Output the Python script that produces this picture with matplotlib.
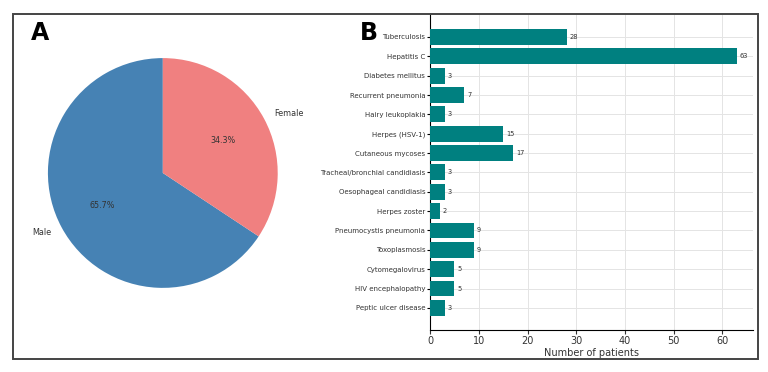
import matplotlib.pyplot as plt
from matplotlib.patches import Rectangle

# panel A data
sexLabels  = ['Male', 'Female']
sexShares  = [65.7, 34.3]
sexColors  = ['#4682B4', '#F08080']

# panel B data
diseases = ['Tuberculosis', 'Hepatitis C', 'Diabetes mellitus', 'Recurrent pneumonia',
            'Hairy leukoplakia', 'Herpes (HSV-1)', 'Cutaneous mycoses',
            'Tracheal/bronchial candidiasis', 'Oesophageal candidiasis', 'Herpes zoster',
            'Pneumocystis pneumonia', 'Toxoplasmosis', 'Cytomegalovirus',
            'HIV encephalopathy', 'Peptic ulcer disease']
patients = [28, 63, 3, 7, 3, 15, 17, 3, 3, 2, 9, 9, 5, 5, 3]
xticks   = [0, 10, 20, 30, 40, 50, 60]

textColor = '#333333'

fig = plt.figure(figsize=(7.68, 3.72), dpi=100)

# outer frame around both panels
fig.patches.append(Rectangle((0.017, 0.035), 0.97, 0.927, transform=fig.transFigure,
                             fill=False, edgecolor='#444444', linewidth=1.4))

# pie
axA = fig.add_axes([0.025, 0.1485, 0.374, 0.773])
wedges, texts, autotexts = axA.pie(sexShares, labels=sexLabels, colors=sexColors,
                                   startangle=90, autopct='%1.1f%%',
                                   textprops={'fontsize': 5.8, 'color': textColor})
axA.set_aspect('equal')
fig.text(0.040, 0.91, 'A', fontsize=17, fontweight='bold', va='center')

# bars
axB = fig.add_axes([0.56, 0.113, 0.42, 0.847])
ypos = list(range(len(diseases)))
axB.barh(ypos, patients, height=0.82, color='#008080', zorder=3)
for y, v in zip(ypos, patients):
    axB.text(v + 0.6, y, str(v), va='center', ha='left', fontsize=4.8, color=textColor)
axB.set_yticks(ypos)
axB.set_yticklabels(diseases, fontsize=5.0, color=textColor)
axB.set_xticks(xticks)
axB.tick_params(axis='x', labelsize=7, colors=textColor, length=3, pad=1.5)
axB.tick_params(axis='y', length=2, pad=1.5)
axB.set_xlim(0, 66.2)
axB.set_ylim(15.14, -1.14)
axB.set_xlabel('Number of patients', fontsize=7, color=textColor, labelpad=1)
axB.grid(True, color='#e4e4e4', linewidth=0.7, zorder=0)
axB.spines['top'].set_visible(False)
axB.spines['right'].set_visible(False)
fig.text(0.468, 0.91, 'B', fontsize=17, fontweight='bold', va='center')

fig.savefig('out.png', dpi=100)
